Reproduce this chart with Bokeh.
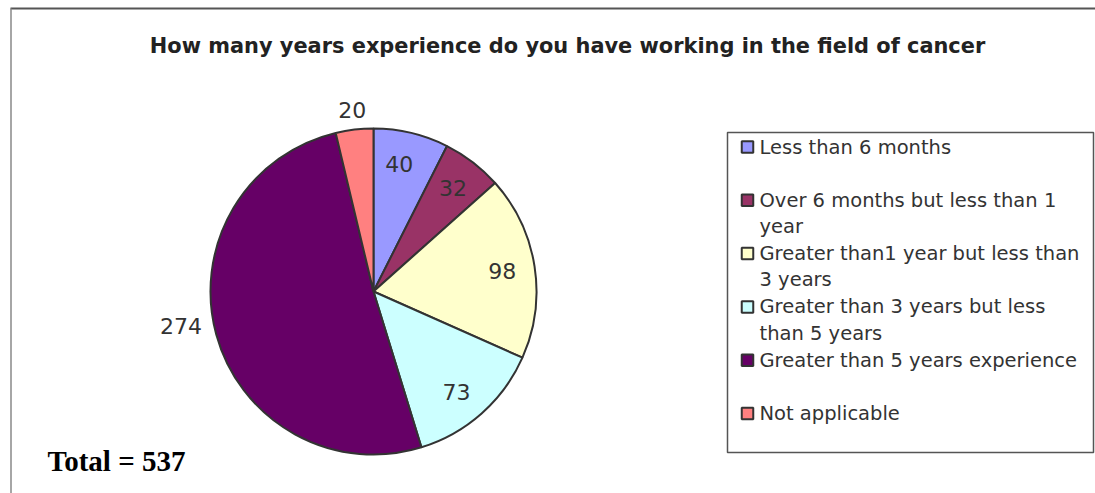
import math
from bokeh.plotting import figure
from bokeh.models import Range1d
from bokeh.core.properties import value
from bokeh.embed import file_html
from bokeh.resources import INLINE

# ---- data ----
title_text = "How many years experience do you have working in the field of cancer"
categories = [
    "Less than 6 months",
    "Over 6 months but less than 1\nyear",
    "Greater than1 year but less than\n3 years",
    "Greater than 3 years but less\nthan 5 years",
    "Greater than 5 years experience",
    "Not applicable",
]
counts = [40, 32, 98, 73, 274, 20]
colors = ["#9999FF", "#993366", "#FFFFCC", "#CCFFFF", "#660066", "#FF8080"]
total_label = "Total = 537"

# ---- styles ----
label_radius = [0.8, 0.8, 0.8, 0.8, 1.2, 1.12]
label_shift_deg = [-2, 0, 0, 2, 5, 0]
SANS = "DejaVu Sans"

W, H = 1095, 493
p = figure(width=W, height=H, x_range=Range1d(0, W), y_range=Range1d(0, H),
           output_backend="svg", toolbar_location=None, min_border=0,
           x_axis_location=None, y_axis_location=None)
p.grid.visible = False
p.outline_line_color = None
p.background_fill_color = "white"
p.border_fill_color = "white"

# frame lines (top and left)
p.segment(x0=[10], y0=[485], x1=[W], y1=[485], line_color="#555555", line_width=2)
p.segment(x0=[10.5], y0=[0], x1=[10.5], y1=[485], line_color="#888888", line_width=1.5)

# title
p.text(x=[567], y=[447.5], text=[title_text], text_font=value(SANS),
       text_font_style="bold", text_font_size="20.9px", text_color="#222222",
       text_align="center", text_baseline="middle")

# pie
cx, cy, R = 373, 202, 163
total = sum(counts)
starts, ends, mids = [], [], []
acc = 0
for c in counts:
    a0 = math.pi / 2 - 2 * math.pi * acc / total
    acc += c
    a1 = math.pi / 2 - 2 * math.pi * acc / total
    starts.append(a0)
    ends.append(a1)
    mids.append((a0 + a1) / 2)

p.wedge(x=[cx] * len(counts), y=[cy] * len(counts), radius=R,
        start_angle=starts, end_angle=ends, direction="clock",
        fill_color=colors, line_color="#333333", line_width=2)

lx, ly = [], []
for m, f, s in zip(mids, label_radius, label_shift_deg):
    a = m - math.radians(s)
    lx.append(cx + f * R * math.cos(a))
    ly.append(cy + f * R * math.sin(a))
p.text(x=lx, y=ly, text=[str(c) for c in counts], text_font=value(SANS),
       text_font_size="22px", text_color="#333333",
       text_align="center", text_baseline="middle")

# legend
p.quad(left=[727], right=[1093], bottom=[41], top=[361], fill_color="white",
       line_color="#555555", line_width=1.5)
tx, ty, tt = [], [], []
mx, my = [], []
for i, lab in enumerate(categories):
    mid_y = 346.5 - 53.3 * i
    mx.append(747)
    my.append(mid_y)
    for j, line in enumerate(lab.split("\n")):
        tx.append(759)
        ty.append(mid_y - 26.3 * j)
        tt.append(line)
p.rect(x=mx, y=my, width=11.5, height=11.5, fill_color=colors,
       line_color="#333333", line_width=2)
p.text(x=tx, y=ty, text=tt, text_font=value(SANS), text_font_size="19.5px",
       text_color="#333333", text_align="left", text_baseline="middle")

# total
p.text(x=[47], y=[33], text=[total_label], text_font=value("Liberation Serif"),
       text_font_style="bold", text_font_size="29px", text_color="black",
       text_align="left", text_baseline="middle")

open("out.html", "w").write(file_html(p, INLINE))
